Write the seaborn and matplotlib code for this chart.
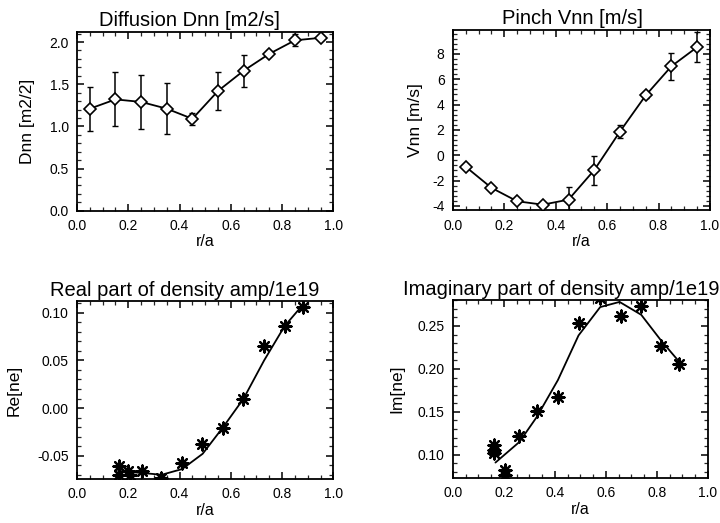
import numpy as np
import pandas as pd
import seaborn as sns
import matplotlib.pyplot as plt
from matplotlib.ticker import AutoMinorLocator, MultipleLocator

# --------------------------- SETTINGS ---------------------------
sns.set_theme(style="ticks")
plt.rcParams['font.family'] = ['Liberation Sans', 'DejaVu Sans']
plt.rcParams.update({
    'xtick.direction': 'in', 'ytick.direction': 'in',
    'xtick.top': True, 'ytick.right': True,
    'xtick.minor.visible': True, 'ytick.minor.visible': True,
    'axes.linewidth': 1.3,
    'axes.unicode_minus': False,
})

# --------------------------- DATA ---------------------------
r_grid = [0.05, 0.15, 0.25, 0.35, 0.45, 0.55, 0.65, 0.75, 0.85, 0.95]
dnn = [1.21, 1.32, 1.29, 1.21, 1.09, 1.42, 1.66, 1.86, 2.02, 2.05]
dnn_err = [0.26, 0.32, 0.32, 0.30, 0.07, 0.23, 0.19, 0.03, 0.07, 0.03]
vnn = [-0.91, -2.57, -3.63, -3.90, -3.50, -1.17, 1.87, 4.72, 7.02, 8.53]
vnn_err = [0.15, 0.15, 0.15, 0.15, 1.00, 1.15, 0.50, 0.20, 1.05, 1.20]

re_r = [0.163, 0.163, 0.200, 0.205, 0.254, 0.327, 0.408, 0.488, 0.568, 0.648, 0.729, 0.811, 0.880]
re_val = [-0.061, -0.070, -0.066, -0.070, -0.066, -0.073, -0.058, -0.038, -0.021, 0.010, 0.065, 0.086, 0.106]
re_fit_r = [0.16, 0.20, 0.25, 0.33, 0.41, 0.49, 0.57, 0.65, 0.73, 0.81, 0.88]
re_fit = [-0.066, -0.067, -0.068, -0.070, -0.064, -0.048, -0.020, 0.010, 0.050, 0.086, 0.108]

im_r = [0.163, 0.163, 0.163, 0.204, 0.204, 0.261, 0.329, 0.412, 0.493, 0.578, 0.660, 0.739, 0.817, 0.889]
im_val = [0.112, 0.106, 0.102, 0.082, 0.076, 0.122, 0.151, 0.167, 0.253, 0.282, 0.262, 0.273, 0.227, 0.206]
im_fit_r = [0.167, 0.261, 0.329, 0.412, 0.493, 0.578, 0.654, 0.739, 0.817, 0.889]
im_fit = [0.091, 0.115, 0.144, 0.187, 0.239, 0.272, 0.278, 0.263, 0.233, 0.208]

titles = ['Diffusion Dnn [m2/s]', 'Pinch Vnn [m/s]',
          'Real part of density amp/1e19', 'Imaginary part of density amp/1e19']
ylabels = ['Dnn [m2/2]', 'Vnn [m/s]', 'Re[ne]', 'Im[ne]']

df_top = pd.DataFrame({'r': r_grid, 'dnn': dnn, 'dnn_err': dnn_err, 'vnn': vnn, 'vnn_err': vnn_err})
df_re = pd.DataFrame({'r': re_r, 'val': re_val})
df_re_fit = pd.DataFrame({'r': re_fit_r, 'val': re_fit})
df_im = pd.DataFrame({'r': im_r, 'val': im_val})
df_im_fit = pd.DataFrame({'r': im_fit_r, 'val': im_fit})

# --------------------------- FIGURE ---------------------------
fig = plt.figure(figsize=(7.2, 5.23), dpi=100)
ax1 = fig.add_axes([0.107, 0.597, 0.356, 0.342])
ax2 = fig.add_axes([0.629, 0.598, 0.357, 0.345])
ax3 = fig.add_axes([0.107, 0.084, 0.356, 0.340])
ax4 = fig.add_axes([0.629, 0.086, 0.354, 0.340])
axes = [ax1, ax2, ax3, ax4]
title_x = [0.44, 0.467, 0.42, 0.427]
ylabel_x = [-0.164, -0.117, -0.215, -0.192]

star = (8, 2, 0)

# top panels: diamonds with error bars
for ax, col, ecol in [(ax1, 'dnn', 'dnn_err'), (ax2, 'vnn', 'vnn_err')]:
    ax.errorbar(df_top['r'], df_top[col], yerr=df_top[ecol], fmt='none',
                ecolor='black', elinewidth=1.1, capsize=2, capthick=1.0, zorder=2)
    sns.lineplot(data=df_top, x='r', y=col, ax=ax, color='black', lw=1.3,
                 marker='D', markersize=6.5, markerfacecolor='white',
                 markeredgecolor='black', markeredgewidth=1.2, zorder=3)

# bottom panels: asterisks with fit line
for ax, pts, fit in [(ax3, df_re, df_re_fit), (ax4, df_im, df_im_fit)]:
    sns.lineplot(data=fit, x='r', y='val', ax=ax, color='black', lw=1.3)
    sns.scatterplot(data=pts, x='r', y='val', ax=ax, marker=star, s=75,
                    color='black', linewidth=1.6, edgecolor='black')

ax1.set_ylim(0, 2.12)
ax1.yaxis.set_major_locator(MultipleLocator(0.5))
ax1.yaxis.set_major_formatter(plt.FormatStrFormatter('%.1f'))
ax2.set_ylim(-4.34, 9.9)
ax2.yaxis.set_major_locator(MultipleLocator(2))
ax3.set_ylim(-0.0745, 0.112)
ax3.yaxis.set_major_locator(MultipleLocator(0.05))
ax3.yaxis.set_major_formatter(plt.FormatStrFormatter('%.2f'))
ax4.set_ylim(0.073, 0.28)
ax4.yaxis.set_major_locator(MultipleLocator(0.05))
ax4.yaxis.set_major_formatter(plt.FormatStrFormatter('%.2f'))

for ax, t, yl, tx, yx in zip(axes, titles, ylabels, title_x, ylabel_x):
    ax.set_xlim(0, 1.0)
    ax.xaxis.set_major_locator(MultipleLocator(0.2))
    ax.xaxis.set_major_formatter(plt.FormatStrFormatter('%.1f'))
    ax.xaxis.set_minor_locator(AutoMinorLocator(4))
    ax.yaxis.set_minor_locator(AutoMinorLocator(5))
    ax.tick_params(which='major', length=5, width=1.1, labelsize=10, pad=6, colors='black')
    ax.tick_params(which='minor', length=3, width=0.9)
    ax.set_title(t, fontsize=14.5, pad=4, color='black', x=tx)
    ax.set_xlabel('r/a', fontsize=11.5, labelpad=1, color='black')
    ax.set_ylabel(yl, fontsize=12.5, color='black')
    ax.yaxis.set_label_coords(yx, 0.5)
    for s in ax.spines.values():
        s.set_color('black')

fig.savefig('out.png', dpi=100)
plt.close(fig)
